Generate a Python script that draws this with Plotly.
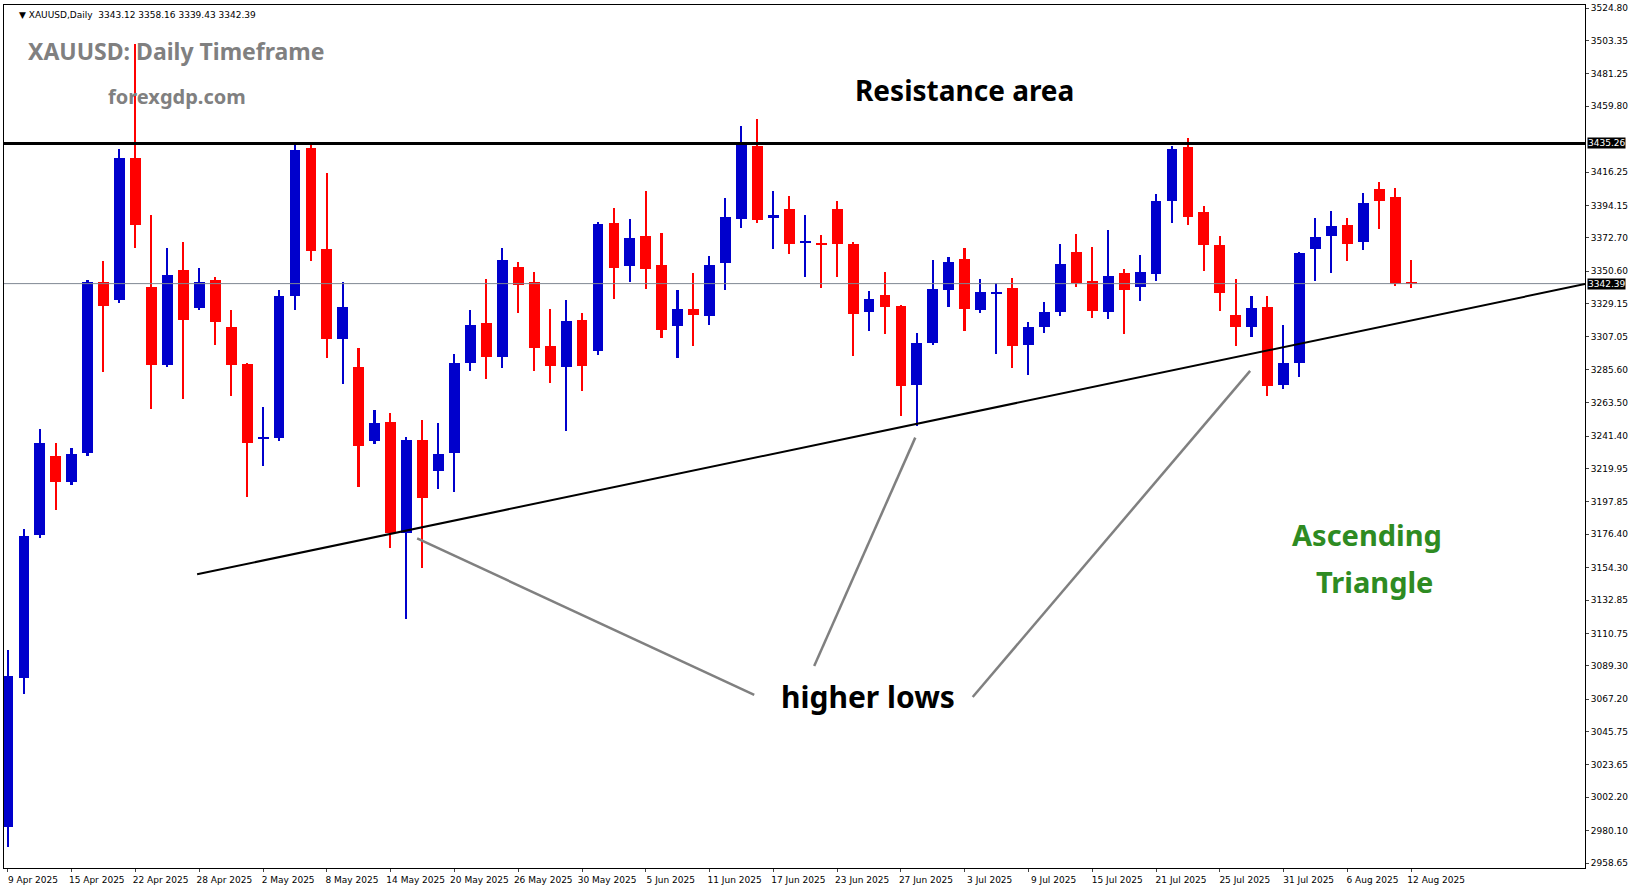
import plotly.graph_objects as go
import pandas as pd

dates = [d for d in pd.bdate_range("2025-04-09", "2025-08-12") if d != pd.Timestamp("2025-04-18")]
opens = [2982.7,3081,3175.8,3228,3210.8,3230,3343.4,3331.8,3425.9,3340,3288.5,3351.7,3326,3344.8,3313.9,3289.2,3240,3240.4,3334.5,3432,
 3365.4,3305.6,3287,3238.3,3250.7,3177.2,3239,3218.1,3230,3290.1,3316.3,3293.9,3353.3,3343.4,3301.1,3287.5,3318.3,3298,3382.4,3354.2,
 3373.8,3354.7,3314.6,3325.6,3321.2,3356.2,3385.3,3433.3,3386.1,3391.7,3369.6,3369.6,3391.7,3368.5,3323.8,3334.8,3327.6,3275.4,3303.4,3338.1,
 3358.6,3324.9,3335.9,3339.2,3302,3313.9,3323.8,3363.2,3344.1,3323.8,3349.4,3340.3,3348.9,3397.2,3432.6,3389.7,3367.9,3321.6,3313.7,3326.9,
 3275.4,3290.1,3365.5,3374,3381.1,3370.1,3404.9,3399.6,3343.12]
closes = [3082.4,3175,3236.9,3210.8,3229.4,3343.4,3327.6,3425.9,3381.2,3288.5,3348.2,3318,3343.4,3317.3,3288.5,3237,3240.6,3334.5,3430.7,3364,
 3305.6,3327,3234.9,3250,3177.2,3239,3200.3,3229.8,3289.9,3315,3293.9,3358,3341.7,3300,3287.9,3317.7,3287.9,3381.7,3352.9,3372.5,
 3352.2,3312,3325.6,3321.9,3354.7,3386.4,3434.4,3384.6,3388.1,3368.8,3370.3,3368,3368.8,3322.5,3332.2,3327.1,3274.3,3302.9,3338.8,3356.6,
 3325.6,3336.8,3336.2,3301.4,3313.5,3323.4,3355.3,3342.8,3324.5,3347.4,3338.1,3350,3397,3431.3,3386.4,3367.9,3336.2,3313.7,3326.3,3274.3,
 3289.9,3362.6,3373.2,3380.4,3368.8,3395.6,3397.2,3342.1,3342.39]
highs = [3099.6,3179.9,3245.9,3236.9,3233.5,3344.8,3357.2,3431.4,3501.4,3388,3366,3370,3353,3347,3325,3290,3261,3338,3434.8,3434,
 3415.6,3343.4,3300,3258.9,3256.9,3241,3252.3,3249.8,3295.6,3324.9,3345.4,3365.9,3356.6,3350,3325.6,3331.5,3323,3383,3392.3,3385,
 3403.5,3375.8,3338.1,3349.4,3360.6,3398.9,3446.5,3451.1,3403.5,3400.2,3387.7,3374.5,3397,3370,3337.5,3350,3328.5,3309.5,3358,3360,
 3365.9,3345.4,3342.8,3346.1,3317,3330.2,3368.5,3375.1,3366.6,3377.8,3352,3361.3,3401.6,3433.3,3438.6,3393.6,3373.8,3345.4,3334.2,3334.2,
 3315,3363.5,3385.7,3390.3,3385.7,3402.2,3409.5,3405.5,3358.16]
lows = [2969,3070.7,3174,3192.3,3208.8,3228.5,3283.7,3329.5,3366.1,3259.6,3287,3265.8,3325,3302,3267.9,3201.2,3221.8,3238,3324.9,3357.2,
 3293.3,3276,3208,3236,3167,3120,3154,3206.3,3204.3,3284.6,3279,3286.8,3323.2,3284.6,3276.3,3245,3271,3295.2,3332.4,3343.7,
 3339,3306.7,3293.4,3301.1,3315,3338.1,3379.3,3382.4,3365.5,3362.1,3347,3339.7,3347,3294.5,3311.1,3309.3,3254.9,3248.3,3301.8,3327.1,
 3311.1,3323,3296.1,3286.2,3282.2,3310,3321.2,3340.1,3319.9,3319,3309.3,3330.9,3344.1,3382.4,3381,3350.7,3324.3,3301.1,3307.1,3267.7,
 3272.5,3280.7,3344.1,3349.4,3357.3,3364.8,3378.4,3340.8,3339.43]

ytick_vals = [3524.80,3503.35,3481.25,3459.80,3416.25,3394.15,3372.70,3350.60,3329.15,3307.05,3285.60,3263.50,3241.40,3219.95,
 3197.85,3176.40,3154.30,3132.85,3110.75,3089.30,3067.20,3045.75,3023.65,3002.20,2980.10,2958.65]
resistance = 3435.26
last_price = 3342.39
trend_x = [11.86, 98.9]
trend_y = [3149.9, 3342.1]
pointer_lines = [([25.66, 46.8], [3173.7, 3070.0]), ([56.9, 50.56], [3240.4, 3089.1]), ([77.9, 60.5], [3284.6, 3068.6])]

n = len(opens)
idx = list(range(n))
up = [c >= o for o, c in zip(opens, closes)]
colors = ["#0000CC" if u else "#FF0000" for u in up]
body_base = [min(o, c) for o, c in zip(opens, closes)]
body_h = [max(abs(c - o), 0.9) for o, c in zip(opens, closes)]

fig = go.Figure()
fig.add_trace(go.Bar(x=idx, base=lows, y=[h - l for h, l in zip(highs, lows)], width=0.1,
                     marker=dict(color=colors, line=dict(width=0)), hoverinfo="skip"))
fig.add_trace(go.Bar(x=idx, base=body_base, y=body_h, width=0.68,
                     marker=dict(color=colors, line=dict(width=0))))

fig.add_trace(go.Scatter(x=[-1, 100], y=[last_price, last_price], mode="lines", line=dict(color="#7F8793", width=1)))
fig.add_trace(go.Scatter(x=[-1, 100], y=[resistance, resistance], mode="lines", line=dict(color="black", width=3)))
fig.add_trace(go.Scatter(x=trend_x, y=trend_y, mode="lines", line=dict(color="black", width=2)))
for px, py in pointer_lines:
    fig.add_trace(go.Scatter(x=px, y=py, mode="lines", line=dict(color="#808080", width=2.5)))

tickv = list(range(0, n, 4))
tickt = [f"{dates[i].day} {dates[i].strftime('%b %Y')}" for i in tickv]

fnt = "Noto Sans"
fig.update_layout(
    width=1631, height=888, margin=dict(l=3, r=45, t=3, b=20),
    paper_bgcolor="white", plot_bgcolor="white", showlegend=False, barmode="overlay", bargap=0,
    xaxis=dict(range=[-0.25, 98.9], tickvals=tickv, ticktext=tickt, ticks="outside", ticklen=3,
               ticklabelshift=25, ticklabelstandoff=0,
               tickfont=dict(size=9, family="DejaVu Sans", color="black"), showgrid=False, zeroline=False,
               showline=True, linecolor="black", linewidth=1, mirror=True),
    yaxis=dict(range=[2955.4, 3526.9], side="right", tickvals=ytick_vals, ticktext=[f"{v:.2f}" for v in ytick_vals],
               ticks="outside", ticklen=3, tickfont=dict(size=9, family="DejaVu Sans", color="black"),
               showgrid=False, zeroline=False, showline=True, linecolor="black", linewidth=1, mirror=True),
)

def paper_text(txt, x, y, size, color):
    fig.add_annotation(x=x / 1631, y=1 - y / 888, xref="paper", yref="paper", text=f"<b>{txt}</b>",
                       showarrow=False, xanchor="center", yanchor="middle",
                       font=dict(size=size, color=color, family=fnt))

paper_text("XAUUSD: Daily Timeframe", 177, 47, 23, "#808080")
paper_text("forexgdp.com", 178, 94, 20, "#808080")
paper_text("Resistance area", 991, 87, 28, "black")
paper_text("higher lows", 891, 712, 30, "black")
paper_text("Ascending", 1406, 545, 29, "#2E8B22")
paper_text("Triangle", 1414, 593, 29, "#2E8B22")
fig.add_annotation(x=0.008, y=0.997, xref="paper", yref="paper", text="▼ XAUUSD,Daily  3343.12 3358.16 3339.43 3342.39",
                   showarrow=False, xanchor="left", yanchor="top", font=dict(size=9, color="black", family="DejaVu Sans"))
for v in [resistance, last_price]:
    fig.add_annotation(x=1.0, y=v, xref="paper", yref="y", text=f"{v:.2f}", showarrow=False, xanchor="left",
                       xshift=2, bgcolor="black", font=dict(size=9, color="white", family="DejaVu Sans"), borderpad=0)

fig.write_html("out.html", config={"displayModeBar": False},
               post_script="document.body.style.margin='0';document.body.style.overflow='hidden';")
